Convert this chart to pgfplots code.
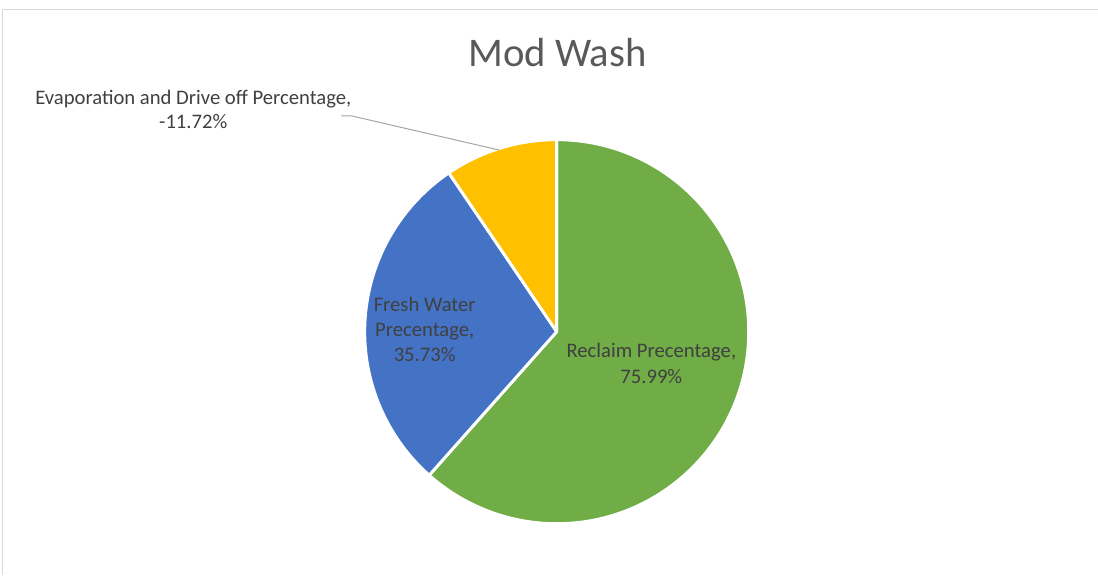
\documentclass[border=0pt]{standalone}
\usepackage{pgfplots}
\pgfplotsset{compat=1.18}
\usepackage{pgfplotstable}
\usepackage{fontspec}
\setmainfont{Carlito}
\definecolor{cgreen}{HTML}{70AD47}
\definecolor{cblue}{HTML}{4472C4}
\definecolor{cyellow}{HTML}{FFC000}
\definecolor{titlegray}{HTML}{595959}
\definecolor{labelgray}{HTML}{404040}
\definecolor{framegray}{HTML}{D9D9D9}
\definecolor{leadgray}{HTML}{A6A6A6}
\pgfplotstableread{
name value
Reclaim 75.99
Fresh 35.73
Evap -11.72
}\piedata
\begin{document}%
\begin{tikzpicture}
\pgfplotstablegetelem{0}{value}\of\piedata\let\va\pgfplotsretval
\pgfplotstablegetelem{1}{value}\of\piedata\let\vb\pgfplotsretval
\pgfplotstablegetelem{2}{value}\of\piedata\let\vcraw\pgfplotsretval
\pgfmathsetmacro\wa{abs(\va)}
\pgfmathsetmacro\wb{abs(\vb)}
\pgfmathsetmacro\wc{abs(\vcraw)}
\pgfmathsetmacro\tot{\wa+\wb+\wc}
\pgfmathsetmacro\aA{90}
\pgfmathsetmacro\aB{90-360*(\wa/\tot)}
\pgfmathsetmacro\aC{\aB-360*(\wb/\tot)}
\pgfmathsetmacro\aD{\aC-360*(\wc/\tot)}
\def\R{144pt}
\def\cx{556.7}
\def\cy{243.3}
\begin{axis}[hide axis, x=0.75pt, y=0.75pt, xmin=0, xmax=1098, ymin=0, ymax=575, clip=false]
\coordinate (BL) at (axis cs:0,0);
\coordinate (TR) at (axis cs:1098,575);
\draw[framegray, line width=0.75pt] (axis cs:2.5,0) -- (axis cs:2.5,565.5) -- (axis cs:1098,565.5);
\filldraw[fill=cgreen, draw=white, line width=2.2pt, line join=round] (axis cs:\cx,\cy) -- ++(\aA:\R) arc[start angle=\aA, end angle=\aB, radius=\R] -- cycle;
\filldraw[fill=cblue, draw=white, line width=2.2pt, line join=round] (axis cs:\cx,\cy) -- ++(\aB:\R) arc[start angle=\aB, end angle=\aC, radius=\R] -- cycle;
\filldraw[fill=cyellow, draw=white, line width=2.2pt, line join=round] (axis cs:\cx,\cy) -- ++(\aC:\R) arc[start angle=\aC, end angle=\aD, radius=\R] -- cycle;
\node[anchor=base, text=titlegray, font=\fontsize{30.5}{36}\selectfont] at (axis cs:557.5,508.3) {Mod Wash};
\draw[leadgray, line width=0.75pt] (axis cs:341,459) -- (axis cs:352,459) -- (axis cs:499,425);
\begin{scope}[every node/.style={anchor=base, text=labelgray, font=\fontsize{15.5}{18.6}\selectfont, inner sep=0pt}]
\node at (axis cs:193.3,470.5) {Evaporation and Drive off Percentage,};
\node at (axis cs:193.3,446.5) {-11.72\%};
\node at (axis cs:424.7,263.5) {Fresh Water};
\node at (axis cs:424.7,238.5) {Precentage,};
\node at (axis cs:424.7,213.5) {35.73\%};
\node at (axis cs:651.3,217.3) {Reclaim Precentage,};
\node at (axis cs:651.3,192) {75.99\%};
\end{scope}
\end{axis}
\pgfresetboundingbox
\path[use as bounding box] (BL) rectangle (TR);
\end{tikzpicture}%
\end{document}
